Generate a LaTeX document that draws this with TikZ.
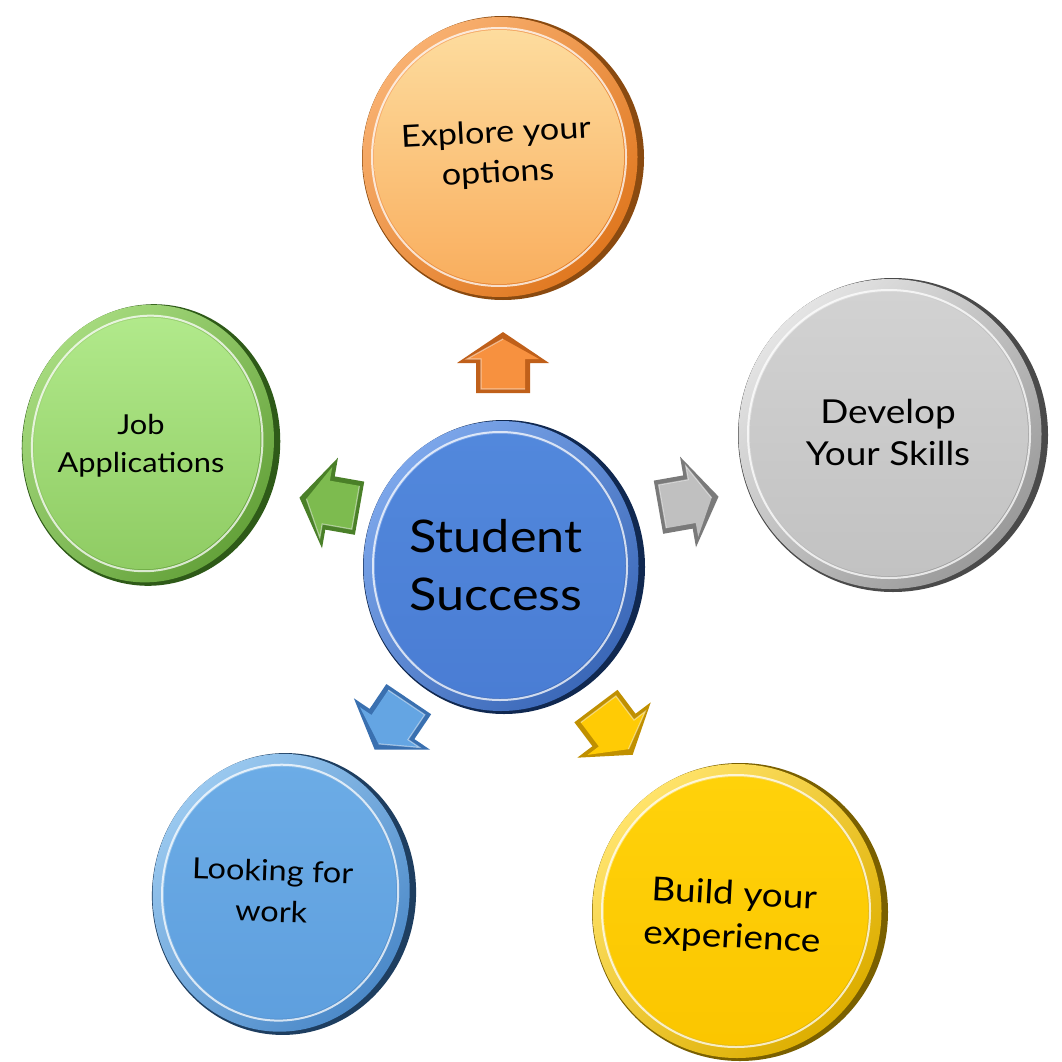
\documentclass[tikz,border=0pt]{standalone}
\usepackage{fontspec}
\setmainfont{Lato}[FakeStretch=1.12]
% colours: prefix + Dark / Rim / RimL / FaceT / FaceB / Arr / ArrD
\definecolor{orDark}{HTML}{8A4A10}\definecolor{orRim}{HTML}{E07820}\definecolor{orRimL}{HTML}{F8B070}
\definecolor{orFaceT}{HTML}{FDDC9E}\definecolor{orFaceB}{HTML}{F9AE5E}
\definecolor{orArr}{HTML}{F7913F}\definecolor{orArrD}{HTML}{C0601A}
\definecolor{grDark}{HTML}{4A4A4A}\definecolor{grRim}{HTML}{9A9A9A}\definecolor{grRimL}{HTML}{E4E4E4}
\definecolor{grFaceT}{HTML}{D2D2D2}\definecolor{grFaceB}{HTML}{C2C2C2}
\definecolor{grArr}{HTML}{C0C0C0}\definecolor{grArrD}{HTML}{7A7A7A}
\definecolor{gnDark}{HTML}{2E5A18}\definecolor{gnRim}{HTML}{62A038}\definecolor{gnRimL}{HTML}{A8DC80}
\definecolor{gnFaceT}{HTML}{B2EA8C}\definecolor{gnFaceB}{HTML}{8ECB62}
\definecolor{gnArr}{HTML}{7DBB4F}\definecolor{gnArrD}{HTML}{4A8028}
\definecolor{lbDark}{HTML}{1E3E60}\definecolor{lbRim}{HTML}{4A88C8}\definecolor{lbRimL}{HTML}{9CCAF0}
\definecolor{lbFaceT}{HTML}{6CACE6}\definecolor{lbFaceB}{HTML}{5E9FDE}
\definecolor{lbArr}{HTML}{64A5E3}\definecolor{lbArrD}{HTML}{3A70B0}
\definecolor{cbDark}{HTML}{102850}\definecolor{cbRim}{HTML}{3B68B8}\definecolor{cbRimL}{HTML}{7CA6EA}
\definecolor{cbFaceT}{HTML}{5288DC}\definecolor{cbFaceB}{HTML}{4A7DD4}
\definecolor{yeDark}{HTML}{7A6000}\definecolor{yeRim}{HTML}{DDAE00}\definecolor{yeRimL}{HTML}{FFE36A}
\definecolor{yeFaceT}{HTML}{FFD20A}\definecolor{yeFaceB}{HTML}{FBC600}
\definecolor{yeArr}{HTML}{FFCB05}\definecolor{yeArrD}{HTML}{C09000}

\newcommand\mydisk[6]{%
  \begin{scope}[shift={(#1,#2)}, rotate=#5]
    \fill[#6Dark] (0,0) ellipse [x radius=#3, y radius=#4];
    \shade[top color=#6RimL, bottom color=#6Rim, shading angle=45]
      (-3,-1) ellipse [x radius=#3-3.5, y radius=#4-2];
    \shade[top color=#6FaceT, bottom color=#6FaceB]
      (-4,-1) ellipse [x radius=#3-16, y radius=#4-15];
    \draw[white, opacity=.75, line width=2] (-4,-1) ellipse [x radius=#3-14, y radius=#4-13];
  \end{scope}}

\newcommand\myarrow[5]{%
  \begin{scope}[shift={(#1,#2)}, rotate=#3]
    \coordinate (#5) at (0,0);
    \fill[#4ArrD] (-30,-27) -- (0,-27) -- (0,-46) -- (31,0) -- (0,46) -- (0,27) -- (-30,27) -- cycle;
    \fill[#4Arr] (-26,-22) -- (4,-22) -- (4,-36) -- (24,0) -- (4,36) -- (4,22) -- (-26,22) -- cycle;
    \draw[white, opacity=.45, line width=1.2] (-26,22) -- (-26,-22) -- (4,-22) -- (4,-36) -- (24,0);
  \end{scope}}

\tikzset{
  lbl/.style={align=center, text=black, inner sep=0pt},
  biglbl/.style={font=\fontsize{45}{58}\selectfont, align=center, text=black, inner sep=0pt}
}

\begin{document}
\begin{tikzpicture}[x=1pt, y=-1pt]
  \useasboundingbox (0,0) rectangle (1061,1062);
  \fill[white] (0,0) rectangle (1061,1062);

  % disks
  \mydisk{503}{158}{141}{142}{0}{or}
  \mydisk{893}{435}{155}{157}{0}{gr}
  \mydisk{151}{445}{129}{141}{-8}{gn}
  \mydisk{284}{894}{132}{141}{-5}{lb}
  \mydisk{740}{912}{148}{149}{0}{ye}
  \mydisk{504}{567}{141}{147}{0}{cb}

  % arrows
  \myarrow{503}{363}{90}{or}{aup}
  \myarrow{688}{502}{10}{gr}{aright}
  \myarrow{330}{503}{170}{gn}{aleft}
  \myarrow{392}{724}{236}{lb}{abl}
  \myarrow{614}{730}{-53}{ye}{abr}

  % labels
  \node[biglbl] (center) at (496,565) {Student\\Success};
  \node[lbl, font=\fontsize{30.5}{40}\selectfont, rotate=3] (explore) at (497,154) {Explore your\\options};
  \node[lbl, font=\fontsize{33}{42}\selectfont] (develop) at (888,432) {Develop\\Your Skills};
  \node[lbl, font=\fontsize{27.5}{38}\selectfont] (job) at (141,446) {Job\\Applications};
  \node[lbl, font=\fontsize{29}{41}\selectfont, rotate=-2] (looking) at (272,891) {Looking for\\work};
  \node[lbl, font=\fontsize{33}{43}\selectfont, rotate=-3] (build) at (733,917) {Build your\\experience};
\end{tikzpicture}
\end{document}
